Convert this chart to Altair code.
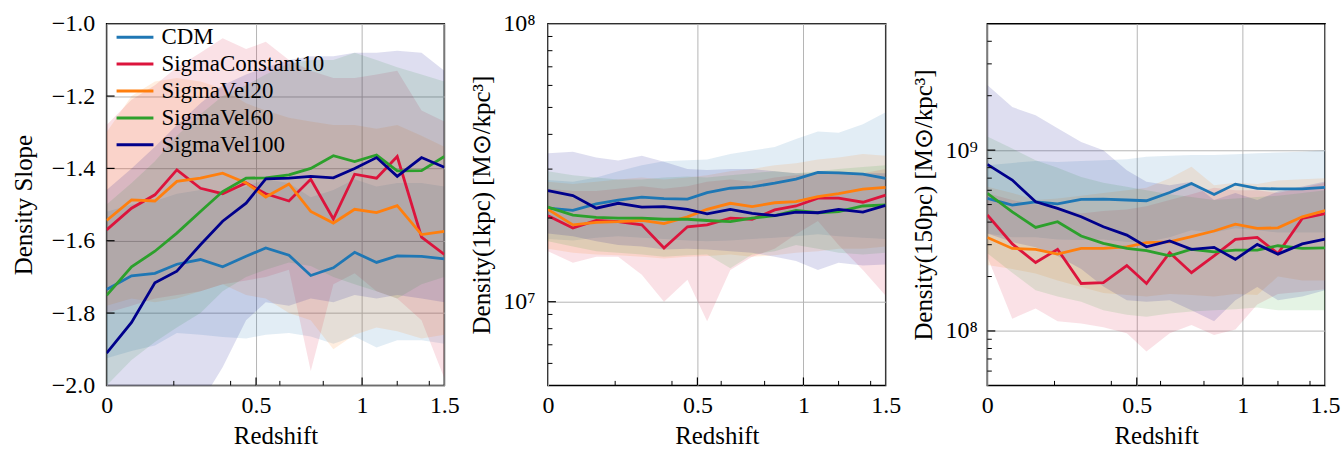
import altair as alt
import pandas as pd

MODELS = ["CDM", "SigmaConstant10", "SigmaVel20", "SigmaVel60", "SigmaVel100"]
COLORS = ["#1f77b4", "#dc143c", "#ff7f0e", "#2ca02c", "#00008b"]
REDSHIFT = [0, 0.07, 0.14, 0.21, 0.29, 0.37, 0.46, 0.54, 0.64, 0.74, 0.85, 0.96, 1.08, 1.2, 1.35, 1.5]

X_LABELS = [0, 0.5, 1, 1.5]
X_MAJOR_TICKS = [0.5, 1.0]
X_MINOR_TICKS = [0.2, 0.4, 0.6, 0.8, 1.2, 1.4]

# ---- panel 1: density slope ----
SLOPE_CDM = [-1.735, -1.697, -1.69, -1.665, -1.652, -1.672, -1.643, -1.62, -1.64, -1.696, -1.675, -1.632, -1.66, -1.642, -1.643, -1.65]
SLOPE_CDM_LO = [-1.925, -1.905, -1.89, -1.855, -1.86, -1.866, -1.87, -1.86, -1.855, -1.865, -1.885, -1.865, -1.895, -1.875, -1.875, -1.885]
SLOPE_CDM_HI = [-1.52, -1.5, -1.49, -1.47, -1.46, -1.47, -1.45, -1.43, -1.44, -1.48, -1.46, -1.43, -1.45, -1.44, -1.44, -1.45]
SLOPE_SC10 = [-1.57, -1.51, -1.473, -1.404, -1.455, -1.47, -1.44, -1.47, -1.49, -1.43, -1.54, -1.416, -1.427, -1.367, -1.59, -1.638]
SLOPE_SC10_LO = [-1.8, -1.78, -1.76, -1.75, -1.74, -1.72, -1.71, -1.7, -1.68, -1.96, -1.72, -1.69, -1.74, -1.76, -1.82, -1.98]
SLOPE_SC10_HI = [-1.28, -1.21, -1.17, -1.12, -1.08, -1.04, -1.07, -1.05, -1.1, -1.13, -1.15, -1.15, -1.14, -1.13, -1.24, -1.27]
SLOPE_V20 = [-1.544, -1.487, -1.49, -1.436, -1.427, -1.413, -1.44, -1.479, -1.443, -1.519, -1.551, -1.513, -1.522, -1.503, -1.583, -1.574]
SLOPE_V20_LO = [-1.78, -1.76, -1.77, -1.76, -1.74, -1.72, -1.75, -1.76, -1.8, -1.82, -1.9, -1.86, -1.84, -1.85, -1.87, -1.86]
SLOPE_V20_HI = [-1.3, -1.2, -1.16, -1.15, -1.16, -1.18, -1.22, -1.24, -1.26, -1.27, -1.28, -1.28, -1.29, -1.28, -1.31, -1.34]
SLOPE_V60 = [-1.751, -1.672, -1.629, -1.579, -1.519, -1.464, -1.427, -1.426, -1.418, -1.4, -1.365, -1.381, -1.363, -1.407, -1.406, -1.367]
SLOPE_V60_LO = [-2.0, -1.93, -1.88, -1.84, -1.8, -1.74, -1.7, -1.68, -1.66, -1.67, -1.7, -1.72, -1.74, -1.76, -1.72, -1.7]
SLOPE_V60_HI = [-1.5, -1.44, -1.38, -1.31, -1.25, -1.2, -1.17, -1.14, -1.11, -1.1, -1.1, -1.08, -1.1, -1.12, -1.14, -1.16]
SLOPE_V100 = [-1.911, -1.826, -1.716, -1.684, -1.611, -1.546, -1.496, -1.429, -1.427, -1.422, -1.426, -1.4, -1.37, -1.422, -1.37, -1.397]
SLOPE_V100_LO = [-2.3, -2.25, -2.2, -2.12, -2.05, -1.95, -1.82, -1.77, -1.78, -1.76, -1.77, -1.75, -1.76, -1.75, -1.76, -1.77]
SLOPE_V100_HI = [-1.46, -1.4, -1.34, -1.28, -1.22, -1.17, -1.14, -1.12, -1.1, -1.09, -1.09, -1.08, -1.08, -1.075, -1.08, -1.13]
SLOPE_TICKS = [-2.0, -1.8, -1.6, -1.4, -1.2, -1.0]
SLOPE_MAJOR_TICKS = [-1.8, -1.6, -1.4, -1.2]

# ---- panel 2: density within 1 kpc ----
D1_CDM = [2.17e7, 2.13e7, 2.25e7, 2.32e7, 2.38e7, 2.35e7, 2.34e7, 2.47e7, 2.56e7, 2.59e7, 2.67e7, 2.76e7, 2.92e7, 2.91e7, 2.88e7, 2.78e7]
D1_CDM_LO = [1.68e7, 1.66e7, 1.7e7, 1.72e7, 1.7e7, 1.68e7, 1.66e7, 1.65e7, 1.66e7, 1.68e7, 1.7e7, 1.72e7, 1.75e7, 1.72e7, 1.7e7, 1.68e7]
D1_CDM_HI = [2.74e7, 2.7e7, 2.8e7, 2.95e7, 3.1e7, 3.2e7, 3.23e7, 3.25e7, 3.4e7, 3.5e7, 3.6e7, 3.85e7, 4.1e7, 4.05e7, 4.35e7, 4.8e7]
D1_SC10 = [2.04e7, 1.84e7, 1.96e7, 1.94e7, 1.89e7, 1.56e7, 1.86e7, 1.89e7, 2.0e7, 1.98e7, 2.14e7, 2.21e7, 2.36e7, 2.36e7, 2.28e7, 2.42e7]
D1_SC10_LO = [1.52e7, 1.38e7, 1.45e7, 1.45e7, 1.25e7, 1.0e7, 1.2e7, 8.5e6, 1.3e7, 1.45e7, 1.55e7, 1.75e7, 1.95e7, 1.6e7, 1.3e7, 1.05e7]
D1_SC10_HI = [2.55e7, 2.5e7, 2.5e7, 2.55e7, 2.6e7, 2.55e7, 2.6e7, 2.7e7, 2.75e7, 2.7e7, 2.8e7, 2.85e7, 2.9e7, 2.95e7, 2.9e7, 3.0e7]
D1_V20 = [2.15e7, 1.89e7, 1.93e7, 1.94e7, 1.96e7, 1.91e7, 2.02e7, 2.15e7, 2.26e7, 2.2e7, 2.27e7, 2.29e7, 2.39e7, 2.45e7, 2.54e7, 2.58e7]
D1_V20_LO = [1.55e7, 1.5e7, 1.48e7, 1.47e7, 1.45e7, 1.43e7, 1.45e7, 1.46e7, 1.48e7, 1.45e7, 1.47e7, 1.5e7, 1.52e7, 1.55e7, 1.55e7, 1.58e7]
D1_V20_HI = [2.7e7, 2.65e7, 2.7e7, 2.75e7, 2.8e7, 2.75e7, 2.8e7, 2.85e7, 2.95e7, 3.0e7, 3.1e7, 3.15e7, 3.25e7, 3.3e7, 3.4e7, 3.35e7]
D1_V60 = [2.19e7, 2.05e7, 2.01e7, 2.0e7, 2.0e7, 1.98e7, 1.98e7, 1.96e7, 1.94e7, 2.0e7, 2.04e7, 2.13e7, 2.09e7, 2.11e7, 2.21e7, 2.23e7]
D1_V60_LO = [1.65e7, 1.58e7, 1.52e7, 1.5e7, 1.48e7, 1.45e7, 1.47e7, 1.48e7, 1.32e7, 1.48e7, 1.52e7, 1.6e7, 1.55e7, 1.5e7, 1.48e7, 1.5e7]
D1_V60_HI = [2.95e7, 2.85e7, 2.8e7, 2.75e7, 2.75e7, 2.8e7, 2.82e7, 2.8e7, 2.85e7, 2.9e7, 2.95e7, 2.9e7, 2.95e7, 3.0e7, 3.05e7, 3.1e7]
D1_V100 = [2.51e7, 2.41e7, 2.17e7, 2.26e7, 2.19e7, 2.2e7, 2.15e7, 2.07e7, 2.15e7, 2.08e7, 2.04e7, 2.1e7, 2.09e7, 2.15e7, 2.1e7, 2.22e7]
D1_V100_LO = [1.76e7, 1.72e7, 1.65e7, 1.6e7, 1.58e7, 1.54e7, 1.55e7, 1.54e7, 1.52e7, 1.5e7, 1.45e7, 1.4e7, 1.3e7, 1.38e7, 1.35e7, 1.36e7]
D1_V100_HI = [3.42e7, 3.46e7, 3.3e7, 3.22e7, 3.35e7, 3.19e7, 3.0e7, 2.98e7, 3.0e7, 3.0e7, 2.95e7, 2.9e7, 2.9e7, 2.88e7, 2.9e7, 2.9e7]
D1_TICKS = [1e7, 1e8]
D1_MINOR_TICKS = [6e6, 7e6, 8e6, 9e6, 2e7, 3e7, 4e7, 5e7, 6e7, 7e7, 8e7, 9e7]

# ---- panel 3: density within 150 pc ----
D150_CDM = [5.41e8, 4.97e8, 5.18e8, 5.04e8, 5.34e8, 5.36e8, 5.3e8, 5.25e8, 5.83e8, 6.54e8, 5.69e8, 6.49e8, 6.14e8, 6.1e8, 6.1e8, 6.22e8]
D150_CDM_LO = [3.46e8, 3.3e8, 3.3e8, 3.2e8, 3.18e8, 3.2e8, 3.1e8, 3.1e8, 3.3e8, 3.6e8, 3.5e8, 3.7e8, 3.6e8, 3.5e8, 3.5e8, 3.5e8]
D150_CDM_HI = [8.26e8, 8.5e8, 8.7e8, 8.6e8, 8.7e8, 8.8e8, 8.9e8, 9.2e8, 9.3e8, 9.4e8, 9.4e8, 9.5e8, 9.6e8, 9.7e8, 9.8e8, 1.0e9]
D150_SC10 = [4.38e8, 3.03e8, 2.39e8, 2.83e8, 1.83e8, 1.85e8, 2.3e8, 1.83e8, 2.71e8, 2.1e8, 2.6e8, 3.21e8, 3.29e8, 2.68e8, 4.19e8, 4.46e8]
D150_SC10_LO = [2.57e8, 1.17e8, 1.33e8, 1.13e8, 1.1e8, 1.05e8, 9.7e7, 7.7e7, 9.7e7, 1.08e8, 9.5e7, 1.02e8, 1.4e8, 1.6e8, 1.65e8, 1.7e8]
D150_SC10_HI = [5.77e8, 5.3e8, 5.0e8, 4.8e8, 4.47e8, 4.6e8, 4.7e8, 4.9e8, 5.3e8, 5.7e8, 6.2e8, 6.0e8, 6.0e8, 5.8e8, 6.2e8, 6.6e8]
D150_V20 = [3.29e8, 2.86e8, 2.83e8, 2.66e8, 2.86e8, 2.86e8, 2.92e8, 3.08e8, 3.11e8, 3.32e8, 3.57e8, 3.9e8, 3.69e8, 3.72e8, 4.28e8, 4.63e8]
D150_V20_LO = [2.32e8, 2.2e8, 2.08e8, 1.9e8, 1.75e8, 1.62e8, 1.58e8, 1.55e8, 1.6e8, 1.58e8, 1.55e8, 1.6e8, 1.58e8, 2.0e8, 1.9e8, 1.9e8]
D150_V20_HI = [6.27e8, 5.8e8, 5.3e8, 5.4e8, 5.6e8, 5.8e8, 6.0e8, 6.2e8, 7.0e8, 8.1e8, 6.4e8, 6.6e8, 6.5e8, 6.8e8, 6.9e8, 7.0e8]
D150_V60 = [5.77e8, 4.56e8, 3.74e8, 4.02e8, 3.35e8, 3.05e8, 2.86e8, 2.78e8, 2.6e8, 2.83e8, 2.74e8, 2.8e8, 2.8e8, 2.96e8, 2.86e8, 2.88e8]
D150_V60_LO = [2.69e8, 2.1e8, 1.68e8, 1.55e8, 1.45e8, 1.3e8, 1.23e8, 1.2e8, 1.25e8, 1.28e8, 1.3e8, 1.32e8, 1.35e8, 1.3e8, 1.3e8, 1.3e8]
D150_V60_HI = [1.19e9, 1.02e9, 8.8e8, 8.0e8, 7.1e8, 6.6e8, 6.27e8, 6.0e8, 5.7e8, 5.5e8, 5.3e8, 5.4e8, 5.5e8, 5.6e8, 5.8e8, 6.0e8]
D150_V100 = [8.34e8, 6.83e8, 5.18e8, 4.76e8, 4.28e8, 3.77e8, 3.39e8, 2.92e8, 3.15e8, 2.83e8, 2.9e8, 2.49e8, 3.01e8, 2.66e8, 3.03e8, 3.22e8]
D150_V100_LO = [3.46e8, 3.1e8, 2.9e8, 2.6e8, 2.2e8, 1.76e8, 1.48e8, 1.45e8, 1.48e8, 1.3e8, 1.13e8, 1.48e8, 1.75e8, 1.48e8, 1.55e8, 1.68e8]
D150_V100_HI = [2.29e9, 1.73e9, 1.56e9, 1.32e9, 1.11e9, 1.0e9, 7.74e8, 6.68e8, 6.4e8, 6.68e8, 5.3e8, 5.8e8, 5.3e8, 5.9e8, 6.3e8, 6.7e8]
D150_TICKS = [1e8, 1e9]
D150_MINOR_TICKS = [6e7, 7e7, 8e7, 9e7, 2e8, 3e8, 4e8, 5e8, 6e8, 7e8, 8e8, 9e8, 2e9, 3e9, 4e9]

FONT = "Liberation Serif"
W, H = 339, 363


def frame(mids, los, his):
    rows = []
    for m, mid, lo, hi in zip(MODELS, mids, los, his):
        for z, v, l, h in zip(REDSHIFT, mid, lo, hi):
            rows.append({"model": m, "zp1": 1 + z, "v": v, "lo": l, "hi": h})
    return pd.DataFrame(rows)


x_enc = alt.X(
    "zp1:Q",
    scale=alt.Scale(type="log", domain=[1, 2.5], nice=False, zero=False),
    axis=alt.Axis(
        values=[1 + v for v in X_LABELS],
        labelExpr="format(datum.value - 1, '.2~f')",
        title="Redshift",
        labelFlush=False,
        labelPadding=8,
        titlePadding=6,
    ),
)


def panel(df, yscale, yaxis, major, minor, legend):
    y_enc = alt.Y("v:Q", scale=yscale, axis=yaxis)
    bands = alt.Chart(df).mark_area(opacity=0.13, clip=True).encode(
        x=x_enc,
        y=alt.Y("lo:Q", scale=yscale, axis=yaxis),
        y2="hi:Q",
        fill=alt.Fill("model:N", scale=alt.Scale(domain=MODELS, range=COLORS), legend=None),
        detail="model:N",
    )
    lines = alt.Chart(df).mark_line(strokeWidth=2.8, clip=True).encode(
        x=x_enc,
        y=y_enc,
        color=alt.Color("model:N", scale=alt.Scale(domain=MODELS, range=COLORS), sort=MODELS, legend=legend),
    )
    layers = [bands, lines]
    xt_major = pd.DataFrame({"zp1": [1 + t for t in X_MAJOR_TICKS]})
    xt_minor = pd.DataFrame({"zp1": [1 + t for t in X_MINOR_TICKS]})
    layers.append(alt.Chart(xt_major).mark_rule(color="black", strokeWidth=1.2).encode(
        x=x_enc, y=alt.value(H), y2=alt.value(H - 8)))
    layers.append(alt.Chart(xt_minor).mark_rule(color="black", strokeWidth=1.0).encode(
        x=x_enc, y=alt.value(H), y2=alt.value(H - 4.5)))
    layers.append(alt.Chart(pd.DataFrame({"v": major})).mark_rule(color="black", strokeWidth=1.2).encode(
        y=y_enc, x=alt.value(0), x2=alt.value(8)))
    if minor:
        layers.append(alt.Chart(pd.DataFrame({"v": minor})).mark_rule(color="black", strokeWidth=1.0).encode(
            y=y_enc, x=alt.value(0), x2=alt.value(4.5)))
    return alt.layer(*layers).properties(width=W, height=H)


def sup_expr(ticks):
    sup = {7: "\u2077", 8: "\u2078", 9: "\u2079"}
    parts = []
    for t in ticks:
        e = len(str(int(t))) - 1
        parts.append(f"datum.value > {t * 0.9} && datum.value < {t * 1.1} ? '10{sup[e]}'")
    return " : ".join(parts) + " : ''"


df1 = frame([SLOPE_CDM, SLOPE_SC10, SLOPE_V20, SLOPE_V60, SLOPE_V100],
            [SLOPE_CDM_LO, SLOPE_SC10_LO, SLOPE_V20_LO, SLOPE_V60_LO, SLOPE_V100_LO],
            [SLOPE_CDM_HI, SLOPE_SC10_HI, SLOPE_V20_HI, SLOPE_V60_HI, SLOPE_V100_HI])
df2 = frame([D1_CDM, D1_SC10, D1_V20, D1_V60, D1_V100],
            [D1_CDM_LO, D1_SC10_LO, D1_V20_LO, D1_V60_LO, D1_V100_LO],
            [D1_CDM_HI, D1_SC10_HI, D1_V20_HI, D1_V60_HI, D1_V100_HI])
df3 = frame([D150_CDM, D150_SC10, D150_V20, D150_V60, D150_V100],
            [D150_CDM_LO, D150_SC10_LO, D150_V20_LO, D150_V60_LO, D150_V100_LO],
            [D150_CDM_HI, D150_SC10_HI, D150_V20_HI, D150_V60_HI, D150_V100_HI])

legend = alt.Legend(
    orient="none", legendX=17, legendY=2, title=None,
    symbolType="M-2,0H2", symbolStrokeWidth=3, symbolSize=342,
    labelFont=FONT, labelFontSize=23, labelColor="black",
    rowPadding=3, padding=0, labelOffset=15, labelLimit=400,
)

p1 = panel(
    df1,
    alt.Scale(domain=[-2.0, -1.0], nice=False, zero=False),
    alt.Axis(values=SLOPE_TICKS, format=".1f", title="Density Slope", labelFlush=False,
             labelPadding=12, titlePadding=15),
    SLOPE_MAJOR_TICKS, None, legend,
)
p2 = panel(
    df2,
    alt.Scale(type="log", domain=[5e6, 1e8], nice=False),
    alt.Axis(values=D1_TICKS, labelExpr=sup_expr(D1_TICKS), title="Density(1kpc) [M\u2299/kpc\u00b3]",
             labelFlush=False, labelPadding=13, titlePadding=8),
    [1e7], D1_MINOR_TICKS, None,
)
p3 = panel(
    df3,
    alt.Scale(type="log", domain=[5e7, 5e9], nice=False),
    alt.Axis(values=D150_TICKS, labelExpr=sup_expr(D150_TICKS), title="Density(150pc) [M\u2299/kpc\u00b3]",
             labelFlush=False, labelPadding=10, titlePadding=9),
    D150_TICKS, D150_MINOR_TICKS, None,
)

chart = (
    alt.hconcat(p1, p2, p3, spacing=8)
    .resolve_legend(color="independent")
    .properties(padding={"left": 10, "top": 10, "right": 0, "bottom": 0})
    .configure_view(stroke="black", strokeWidth=1.5)
    .configure_axis(
        labelFont=FONT, titleFont=FONT, labelFontSize=24, titleFontSize=25,
        titleFontWeight="normal", labelColor="black", titleColor="black",
        ticks=False, domain=False, gridColor="#b5b5b5", gridWidth=1, gridOpacity=1,
    )
)

chart.save("out.html", embed_options={"renderer": "svg", "actions": False})
